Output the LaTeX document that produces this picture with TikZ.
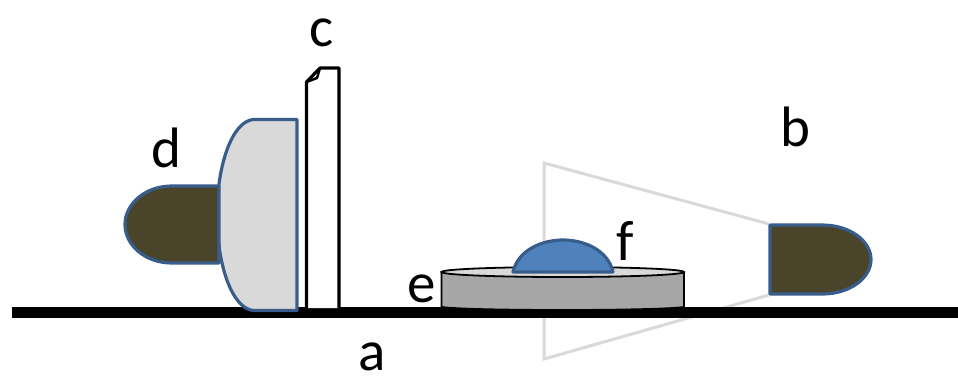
\documentclass[tikz,border=0pt]{standalone}
\usepackage{fontspec}
\setmainfont{Carlito}
\definecolor{detfill}{HTML}{4A452A}
\definecolor{edgeblue}{HTML}{385D8A}
\definecolor{dropblue}{HTML}{4F81BD}
\definecolor{lensgray}{HTML}{D9D9D9}
\definecolor{diskgray}{HTML}{A6A6A6}
\begin{document}
\begin{tikzpicture}[x=1pt, y=-1pt, every node/.style={font=\fontsize{57}{57}\selectfont, inner sep=0pt, anchor=base}, det/.style={draw=edgeblue, line width=3.2pt, fill=detfill, line join=round}, part/.style={draw=edgeblue, line width=3.2pt, line join=round}, beam/.style={draw=lensgray, line width=3pt}]
	\useasboundingbox (0,0) rectangle (958,376);
	% light cone
	\draw[beam] (769,224) -- (544,163) -- (544,359) -- (769,295);
	% stage
	\draw[line width=10.5pt] (12,312.5) -- (958,312.5);
	% left side
	\draw[part, fill=lensgray] (297,119.5) -- (253,119.5) .. controls (232,122) and (217,165) .. (217,215) .. controls (217,265) and (232,308) .. (253,310.5) -- (297,310.5) -- cycle;
	\draw[det] (219,186) -- (172,186) .. controls (145,186) and (125,204) .. (125,224.5) .. controls (125,245) and (145,263) .. (172,263) -- (219,263) -- cycle;
	\draw[black, line width=3.2pt, fill=white, line join=round] (306.5,308) -- (306.5,82) -- (320,68) -- (339,68) -- (339,308);
	\draw[black, line width=2.5pt, line join=round] (306.5,82) -- (317,78) -- (320,68);
	% sample
	\draw[black, line width=1.8pt, fill=diskgray] (441.5,272) -- (441.5,307) .. controls (470,311) and (655,311) .. (684,307) -- (684,272) -- cycle;
	\draw[black, line width=1.8pt, fill=lensgray] (562.75,272) ellipse (121.25 and 5);
	\draw[part, fill=dropblue] (513,272) .. controls (518,250) and (542,240) .. (563,240) .. controls (584,240) and (608,250) .. (613,272) -- cycle;
	% right side
	\draw[det] (770,225) -- (822,225) .. controls (850,225) and (871,241) .. (871,259.5) .. controls (871,278) and (850,294) .. (822,294) -- (770,294) -- cycle;
	% labels
	\node (labela) at (372,370.5) {a};
	\node (labelb) at (795,146) {b};
	\node (labelc) at (322,46) {c};
	\node (labeld) at (166,167) {d};
	\node (labele) at (422,302) {e};
	\node (labelf) at (625,260) {f};
\end{tikzpicture}
\end{document}
